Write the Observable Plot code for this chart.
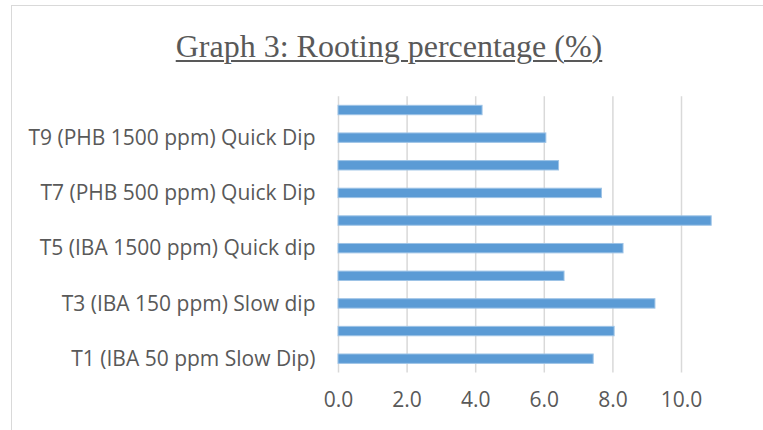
<!DOCTYPE html>
<html>
<head>
<meta charset="utf-8">
<script src="https://cdn.jsdelivr.net/npm/d3@7"></script>
<script src="https://cdn.jsdelivr.net/npm/@observablehq/plot@0.6"></script>
<style>
  body { margin: 0; background: #fff; }
  #wrap { position: relative; width: 763px; height: 430px; overflow: hidden; background: #fff; }
  #frame { position: absolute; left: 11px; top: 5px; width: 800px; height: 500px; border: 1.5px solid #d9d9d9; box-sizing: border-box; }
  #title { position: absolute; left: 0; width: 778px; top: 26px; text-align: center;
           font-family: "Liberation Serif", "Times New Roman", serif; font-size: 32px; color: #595959;
           text-decoration: underline; text-underline-offset: 3px; text-decoration-thickness: 1.5px; line-height: 40px; }
  #chart { position: absolute; left: 0; top: 80px; }
</style>
</head>
<body>
<div id="wrap">
  <div id="frame"></div>
  <div id="title">Graph 3: Rooting percentage (%)</div>
  <div id="chart"></div>
</div>
<script>
const categories = ["T1", "T2", "T3", "T4", "T5", "T6", "T7", "T8", "T9", "T10"];
const values = [7.44, 8.05, 9.24, 6.59, 8.31, 10.88, 7.68, 6.43, 6.06, 4.20];
const shownLabels = {
  "T1": "T1 (IBA 50 ppm Slow Dip)",
  "T3": "T3 (IBA 150 ppm) Slow dip",
  "T5": "T5 (IBA 1500 ppm) Quick dip",
  "T7": "T7 (PHB 500 ppm) Quick Dip",
  "T9": "T9 (PHB 1500 ppm) Quick Dip"
};
const xTicks = [0, 2, 4, 6, 8, 10];

const data = categories.map((c, i) => ({category: c, value: values[i]}));
const font = "'Open Sans', Lato, sans-serif";

const chart = Plot.plot({
  width: 763,
  height: 340,
  marginLeft: 338,
  marginRight: 13.4,
  marginTop: 16.2,
  marginBottom: 47.5,
  style: {fontFamily: font, fontSize: "21px", color: "#595959", background: "transparent", overflow: "visible"},
  x: {domain: [0, 12], ticks: xTicks},
  y: {domain: categories.slice().reverse(), paddingInner: 0.66, paddingOuter: 0.33, align: 0.5, round: false},
  marks: [
    Plot.gridX(xTicks, {stroke: "#d9d9d9", strokeOpacity: 1, strokeWidth: 1.5}),
    Plot.barX(data, {y: "category", x: "value", fill: "#5b9bd5", stroke: "#9dc3e6", strokeWidth: 1}),
    Plot.axisX(xTicks, {tickSize: 0, tickPadding: 19, tickFormat: d => d.toFixed(1), label: null, fill: "#595959", fontSize: 21}),
    Plot.axisY(Object.keys(shownLabels), {tickSize: 0, tickPadding: 23, tickFormat: d => shownLabels[d], label: null, fill: "#595959", fontSize: 21})
  ]
});
document.getElementById("chart").appendChild(chart);
</script>
</body>
</html>
